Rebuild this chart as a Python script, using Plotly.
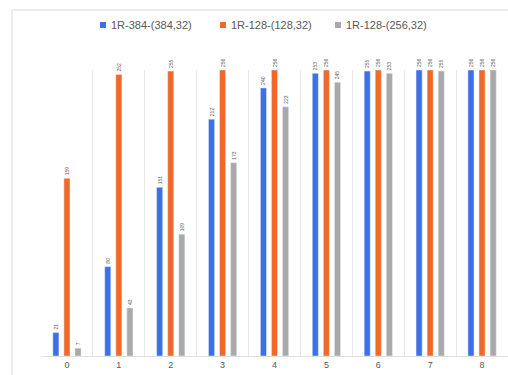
import plotly.graph_objects as go

categories = ["0", "1", "2", "3", "4", "5", "6", "7", "8"]
series_names = ["1R-384-(384,32)", "1R-128-(128,32)", "1R-128-(256,32)"]
blue_vals = [21, 80, 151, 212, 240, 253, 255, 256, 256]
orange_vals = [159, 252, 255, 256, 256, 256, 256, 256, 256]
gray_vals = [7, 43, 109, 173, 223, 245, 253, 255, 256]
colors = ["#3d6fe8", "#f0692c", "#a9a9a9"]

W, H = 508, 375
L, R, T, B = 41, 0, 70, 19
pw, ph = W - L - R, H - T - B

def px(x):
    return (x - L) / pw

def py(y):
    return (H - B - y) / ph

fig = go.Figure()
for name, vals, c in zip(series_names, [blue_vals, orange_vals, gray_vals], colors):
    fig.add_trace(go.Bar(
        x=categories, y=vals, name=name, marker_color=c,
        text=[str(v) for v in vals], textposition="outside", textangle=-90,
        textfont=dict(size=5, color="#595959", family="Liberation Sans"),
        constraintext="none", cliponaxis=False, showlegend=False,
    ))

# manual legend
leg_x = [103, 223, 338]
for name, c, lx in zip(series_names, colors, leg_x):
    fig.add_shape(type="rect", xref="paper", yref="paper",
                  x0=px(lx - 3), x1=px(lx + 3), y0=py(28), y1=py(22),
                  fillcolor=c, line_width=0)
    fig.add_annotation(xref="paper", yref="paper", x=px(lx + 6), y=py(25),
                       xanchor="left", yanchor="middle", showarrow=False,
                       text=name, font=dict(size=11, color="#595959", family="Liberation Sans"))

# chart border (top & left)
fig.add_shape(type="line", xref="paper", yref="paper", x0=px(12), x1=px(W + 5), y0=py(10), y1=py(10),
              line=dict(color="#d9d9d9", width=1))
fig.add_shape(type="line", xref="paper", yref="paper", x0=px(12), x1=px(12), y0=py(10), y1=py(H + 5),
              line=dict(color="#d9d9d9", width=1))

fig.update_layout(
    width=W, height=H, margin=dict(l=L, r=R, t=T, b=B),
    paper_bgcolor="white", plot_bgcolor="white",
    barmode="group", bargap=0.36, bargroupgap=0.45,
    xaxis=dict(type="category", tickson="boundaries", showgrid=True, gridcolor="#e8e8e8", gridwidth=1,
               showline=True, linecolor="#e0e0e0", ticks="outside", ticklen=4, tickcolor="rgba(0,0,0,0)",
               tickfont=dict(size=9, color="#595959", family="Liberation Sans"), zeroline=False),
    yaxis=dict(range=[0, 256], visible=False, showgrid=False, zeroline=False),
    font=dict(family="Liberation Sans"),
)
fig.write_html("out.html")
